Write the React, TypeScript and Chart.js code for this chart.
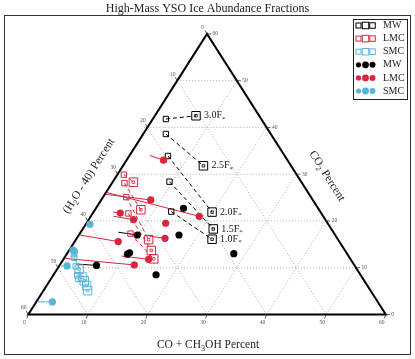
import React, { useEffect, useRef } from "react";
import { Chart, registerables } from "chart.js";
Chart.register(...registerables);

// Ternary values: a = CO + CH3OH %, b = CO2 %, (H2O - 40) % = 60 - a - b
const FULL = 60;
const axisTicks = [0, 10, 20, 30, 40, 50, 60];
const gridTicks = [10, 20, 30, 40, 50];

const modelLabels = ["3.0", "2.5", "2.0", "1.5", "1.0"];
const mwModelStart = [[2.2, 41.8], [3.8, 38.6], [6.5, 33.9], [9.5, 28.4], [13.0, 22.0]];
const mwModelEnd = [[6.9, 42.5], [13.5, 31.8], [19.9, 21.9], [21.9, 18.3], [22.8, 16.1]];
const lmcModelStart = [[1.1, 29.9], [2.1, 28.1], [3.9, 25.1], [6.0, 21.6], [8.5, 17.3]];
const lmcModelEnd = [[3.5, 28.3], [7.7, 22.4], [12.2, 16.0], [13.8, 13.7], [15.1, 11.9]];
const smcModelStart = [[1.2, 12.9], [1.7, 12.1], [2.8, 10.3], [4.0, 8.4], [4.6, 7.6]];
const smcModelEnd = [[3.7, 9.7], [5.1, 8.0], [5.8, 7.2], [6.7, 6.2], [7.4, 5.1]];

const mwObs = [[14.7, 22.7], [9.8, 17.0], [16.8, 17.0], [10.2, 12.9], [10.4, 13.2], [6.2, 10.5], [17.2, 8.5], [28.0, 13.0]];
const mwObsFrom = [null, [6.3, 17.6], null, null, null, [2.6, 10.8], null, null];
const lmcObs = [[6.2, 33.0], [8.3, 24.5], [18.2, 21.0], [4.6, 21.7], [7.5, 20.3], [13.3, 19.5], [14.8, 16.3], [7.3, 15.6], [14.3, 11.8], [12.5, 10.6]];
const lmcObsFrom = [[3.4, 34.0], [0.1, 25.7], [0.1, 26.1], [3.3, 21.9], [3.8, 21.0], null, [11.8, 16.8], [0.1, 17.0], [9.4, 12.5], [0.2, 12.0]];
const smcObs = [[0.6, 13.8], [1.0, 13.5], [1.3, 10.4], [2.7, 2.7], [0.7, 19.3]];
const smcObsFrom = [null, null, [0.1, 10.4], [0.2, 2.7], null];

const legendLabels = ["MW", "LMC", "SMC", "MW", "LMC", "SMC"];

// layout / style
const W = 415, H = 359;
const TRI = { left: 22, right: 392, top: 28, bottom: 320 };
const BLACK = "#000000";
const RED = "#d7263d";
const BLUE = "#5ab4d9";
const FONT = "'Liberation Serif', 'Times New Roman', serif";

const pxPerX = (TRI.right - TRI.left) / FULL;
const pxPerY = (TRI.bottom - TRI.top) / FULL;
const xMin = -TRI.left / pxPerX;
const xMax = xMin + W / pxPerX;
const yMax = FULL + TRI.top / pxPerY;
const yMin = yMax - H / pxPerY;

const toXY = (p: number[]) => ({ x: p[0] + p[1] / 2, y: p[1] });

function buildDatasets() {
  const ds: any[] = [];
  const seg = (from: number[], to: number[], color: string, dash: number[], order: number) =>
    ds.push({
      data: [toXY(from), toXY(to)],
      showLine: true,
      borderColor: color,
      borderWidth: 1,
      borderDash: dash,
      pointRadius: 0,
      order,
    });
  const obsSets: [number[][], (number[] | null)[], string][] = [
    [mwObs, mwObsFrom, BLACK],
    [lmcObs, lmcObsFrom, RED],
    [smcObs, smcObsFrom, BLUE],
  ];
  obsSets.forEach(([obs, from, c]) =>
    obs.forEach((p, i) => { const f = from[i]; if (f) seg(f, p, c, [], 6); })
  );
  const models: [number[][], number[][], string][] = [
    [mwModelStart, mwModelEnd, BLACK],
    [lmcModelStart, lmcModelEnd, RED],
    [smcModelStart, smcModelEnd, BLUE],
  ];
  models.forEach(([s, e, c]) => {
    s.forEach((p, i) => seg(p, e[i], c, [4, 3], 5));
    ds.push({
      data: s.map(toXY), pointStyle: "rect", pointRadius: 3.8, pointBorderWidth: 1,
      pointBorderColor: c, pointBackgroundColor: "rgba(0,0,0,0)", order: 4,
    });
    ds.push({
      data: e.map(toXY), pointStyle: "rect", pointRadius: 6, pointBorderWidth: 1,
      pointBorderColor: c, pointBackgroundColor: "rgba(255,255,255,0)", order: 3,
    });
    ds.push({
      data: e.map(toXY), pointStyle: "rect", pointRadius: 1.8, pointBorderWidth: 0.8,
      pointBorderColor: c, pointBackgroundColor: "rgba(0,0,0,0)", order: 3,
    });
  });
  obsSets.forEach(([obs, , c]) =>
    ds.push({
      data: obs.map(toXY), pointStyle: "circle", pointRadius: 3.6, pointBorderWidth: 0,
      pointBackgroundColor: c, pointBorderColor: c, order: 1,
    })
  );
  return ds;
}

function drawRich(ctx: CanvasRenderingContext2D, parts: [string, boolean][], x: number, y: number,
  size: number, align: "left" | "center" = "center", color = "#222") {
  let total = 0;
  const widths = parts.map(([t, sub]) => {
    ctx.font = `${sub ? size * 0.7 : size}px ${FONT}`;
    const w = ctx.measureText(t).width;
    total += w;
    return w;
  });
  let cx = align === "center" ? x - total / 2 : x;
  ctx.textBaseline = "middle";
  ctx.textAlign = "left";
  ctx.fillStyle = color;
  parts.forEach(([t, sub], i) => {
    ctx.font = `${sub ? size * 0.7 : size}px ${FONT}`;
    ctx.fillText(t, cx, sub ? y + size * 0.32 : y);
    cx += widths[i];
  });
}

const ternaryPlugin = {
  id: "ternary",
  beforeDatasetsDraw(chart: any) {
    const { ctx } = chart;
    const xs = chart.scales.x, ys = chart.scales.y;
    const P = (a: number, b: number) => [xs.getPixelForValue(a + b / 2), ys.getPixelForValue(b)];
    const line = (p: number[], q: number[]) => { ctx.beginPath(); ctx.moveTo(p[0], p[1]); ctx.lineTo(q[0], q[1]); ctx.stroke(); };
    ctx.save();
    // frame
    ctx.strokeStyle = "#333"; ctx.lineWidth = 1;
    ctx.strokeRect(4.5, 15.5, 406, 339);
    // grid
    ctx.strokeStyle = "#9a9a9a"; ctx.lineWidth = 0.8; ctx.setLineDash([1, 2]);
    gridTicks.forEach((k) => {
      line(P(0, k), P(FULL - k, k));
      line(P(k, 0), P(k, FULL - k));
      line(P(FULL - k, 0), P(0, FULL - k));
    });
    ctx.setLineDash([]);
    // triangle
    ctx.strokeStyle = "#000"; ctx.lineWidth = 2;
    ctx.beginPath();
    const A = P(0, 0), B = P(FULL, 0), C = P(0, FULL);
    ctx.moveTo(A[0], A[1]); ctx.lineTo(B[0], B[1]); ctx.lineTo(C[0], C[1]); ctx.closePath(); ctx.stroke();
    // ticks
    ctx.lineWidth = 0.8; ctx.strokeStyle = "#333"; ctx.fillStyle = "#555";
    ctx.font = `5.5px ${FONT}`; ctx.textBaseline = "middle";
    axisTicks.forEach((k) => {
      // bottom: CO + CH3OH
      let p = P(k, 0);
      line(p, [p[0] - 1.5, p[1] + 4]);
      ctx.textAlign = "center"; ctx.fillText(String(k), p[0] - 4, p[1] + 8.5);
      // right: CO2
      p = P(FULL - k, k);
      line(p, [p[0] + 4, p[1]]);
      ctx.textAlign = "left"; ctx.fillText(String(k), p[0] + 5.5, p[1]);
      // left: H2O - 40
      p = P(0, FULL - k);
      line(p, [p[0] - 2, p[1] - 3.5]);
      ctx.textAlign = "center"; ctx.fillText(String(k), p[0] - 4.5, p[1] - 6.5);
    });
    ctx.restore();
  },
  afterDraw(chart: any) {
    const { ctx } = chart;
    const xs = chart.scales.x, ys = chart.scales.y;
    const P = (a: number, b: number) => [xs.getPixelForValue(a + b / 2), ys.getPixelForValue(b)];
    ctx.save();
    // title
    drawRich(ctx, [["High-Mass YSO Ice Abundance Fractions", false]], 207.5, 8.5, 12);
    // axis titles
    drawRich(ctx, [["CO + CH", false], ["3", true], ["OH Percent", false]], 208, 345, 11.5);
    const ang = Math.atan2(TRI.bottom - TRI.top, (TRI.right - TRI.left) / 2);
    ctx.save(); ctx.translate(89, 176); ctx.rotate(-ang);
    drawRich(ctx, [["(H", false], ["2", true], ["O - 40) Percent", false]], 0, 0, 11.5);
    ctx.restore();
    ctx.save(); ctx.translate(327, 176); ctx.rotate(ang);
    drawRich(ctx, [["CO", false], ["2", true], [" Percent", false]], 0, 0, 11.5);
    ctx.restore();
    // model labels
    mwModelEnd.forEach((p, i) => {
      const q = P(p[0], p[1]);
      drawRich(ctx, [[modelLabels[i] + "F", false], ["*", true]], q[0] + 8, q[1], 10, "left");
    });
    // legend
    const lx = 353, ly = 19, lw = 54, lh = 80;
    ctx.fillStyle = "#fff"; ctx.fillRect(lx, ly, lw, lh);
    ctx.strokeStyle = "#222"; ctx.lineWidth = 1; ctx.strokeRect(lx + 0.5, ly + 0.5, lw, lh);
    const cols = [BLACK, RED, BLUE, BLACK, RED, BLUE];
    const mx = [358.5, 365.5, 372.5];
    const sq = [5, 6.5, 5.5];
    const cr = [2.6, 3.4, 3.0];
    legendLabels.forEach((lab, i) => {
      const y = 25.5 + 13.1 * i;
      mx.forEach((x, j) => {
        if (i < 3) {
          ctx.strokeStyle = cols[i]; ctx.lineWidth = 1;
          ctx.strokeRect(x - sq[j] / 2, y - sq[j] / 2, sq[j], sq[j]);
        } else {
          ctx.fillStyle = cols[i];
          ctx.beginPath(); ctx.arc(x, y, cr[j], 0, Math.PI * 2); ctx.fill();
        }
      });
      drawRich(ctx, [[lab, false]], 383, y, 10, "left");
    });
    ctx.restore();
  },
};

export default function App() {
  const ref = useRef<HTMLCanvasElement>(null);
  useEffect(() => {
    const chart = new Chart(ref.current as HTMLCanvasElement, {
      type: "scatter",
      data: { datasets: buildDatasets() },
      options: {
        responsive: false,
        animation: false,
        devicePixelRatio: 1,
        events: [],
        layout: { padding: 0 },
        plugins: { legend: { display: false }, tooltip: { enabled: false }, title: { display: false } },
        scales: {
          x: { type: "linear", min: xMin, max: xMax, display: false },
          y: { type: "linear", min: yMin, max: yMax, display: false },
        },
      } as any,
      plugins: [ternaryPlugin],
    });
    return () => chart.destroy();
  }, []);
  return (
    <div style={{ position: "fixed", left: 0, top: 0, width: W, height: H, background: "#fff" }}>
      <canvas ref={ref} width={W} height={H} style={{ display: "block", width: W, height: H }} />
    </div>
  );
}
